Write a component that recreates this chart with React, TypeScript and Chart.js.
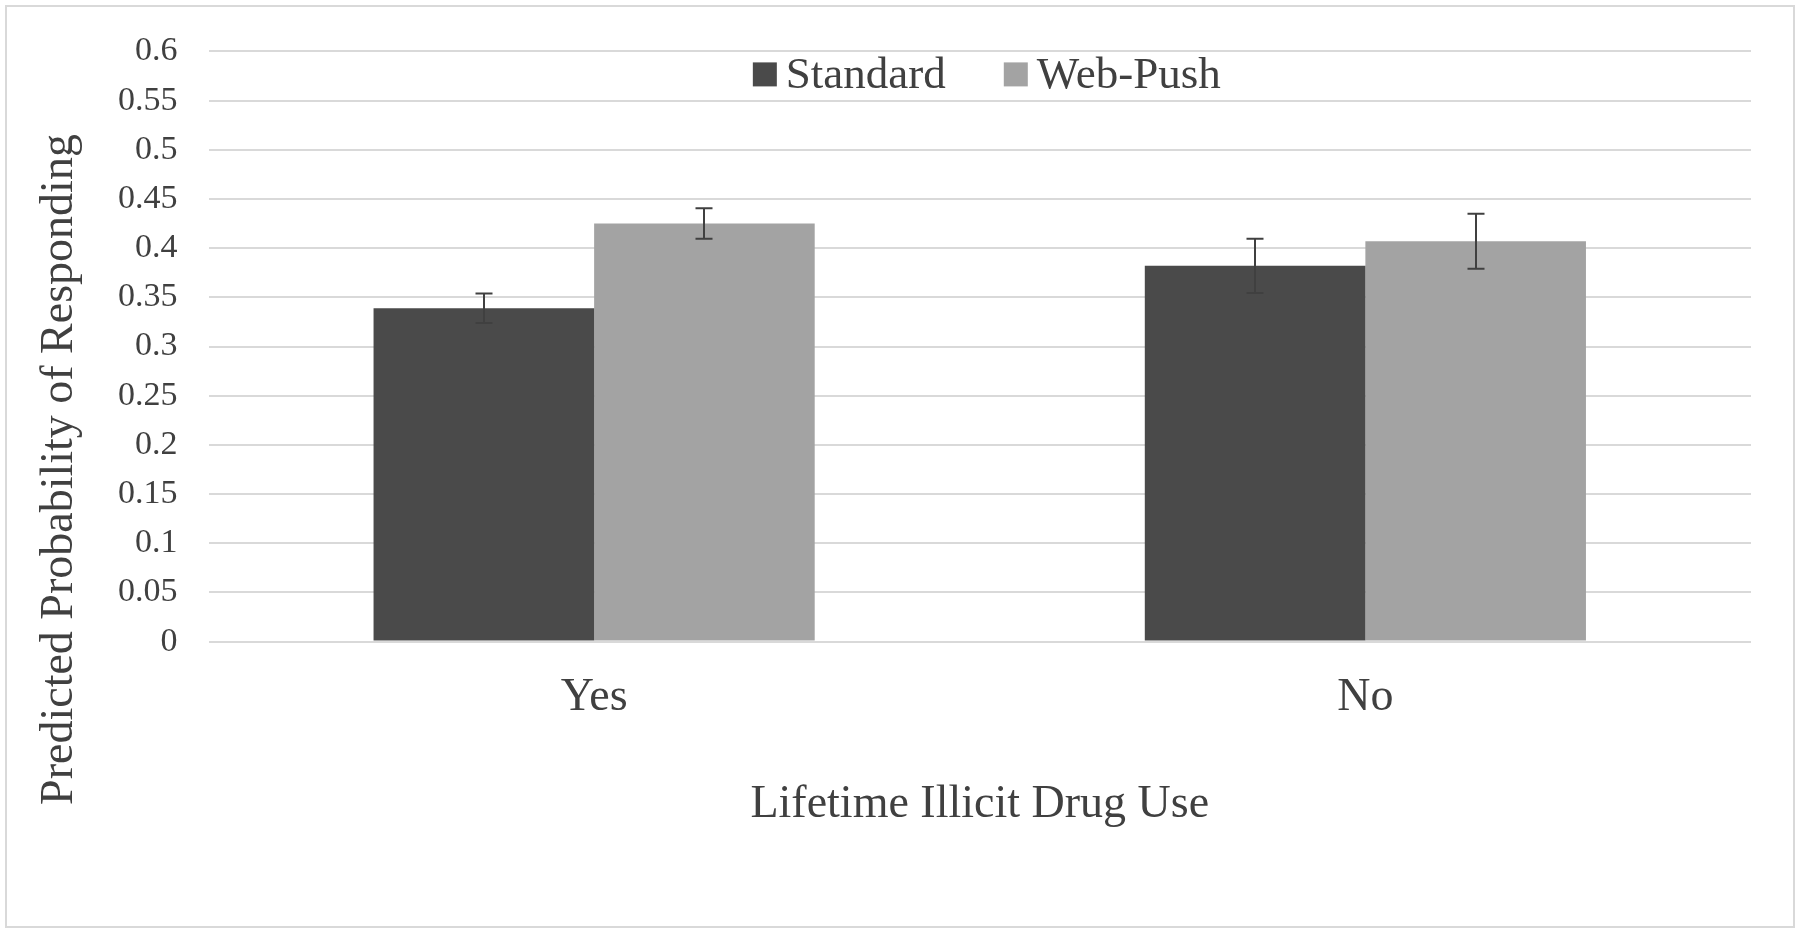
import React, { useEffect, useRef } from 'react';
import { Chart, registerables } from 'chart.js';

Chart.register(...registerables);

const categories = ['Yes', 'No'];
const seriesLabels = ['Standard', 'Web-Push'];
const standardValues = [0.339, 0.382];
const webPushValues = [0.425, 0.407];
const standardErrors = [0.015, 0.0275];
const webPushErrors = [0.0155, 0.028];
const yTickLabels = ['0', '0.05', '0.1', '0.15', '0.2', '0.25', '0.3', '0.35', '0.4', '0.45', '0.5', '0.55', '0.6'];
const xAxisTitle = 'Lifetime Illicit Drug Use';
const yAxisTitle = 'Predicted Probability of Responding';

const seriesColors = ['#4a4a4a', '#a3a3a3'];
const seriesErrors = [standardErrors, webPushErrors];
const FONT = '"Liberation Serif", "Times New Roman", serif';
const TEXT = '#404040';

const framePlugin = {
  id: 'frame',
  beforeDraw(chart: any) {
    const { ctx, width, height } = chart;
    ctx.save();
    ctx.fillStyle = '#ffffff';
    ctx.fillRect(0, 0, width, height);
    ctx.strokeStyle = '#d9d9d9';
    ctx.lineWidth = 2;
    ctx.strokeRect(6, 6, width - 12, height - 12);
    ctx.restore();
  },
};

const errorBarPlugin = {
  id: 'errorBars',
  afterDatasetsDraw(chart: any) {
    const { ctx } = chart;
    const y = chart.scales.y;
    ctx.save();
    ctx.strokeStyle = '#404040';
    ctx.lineWidth = 2;
    chart.data.datasets.forEach((ds: any, i: number) => {
      const meta = chart.getDatasetMeta(i);
      meta.data.forEach((bar: any, j: number) => {
        const v = ds.data[j];
        const e = seriesErrors[i][j];
        const yt = y.getPixelForValue(v + e);
        const yb = y.getPixelForValue(v - e);
        const x = Math.round(bar.x);
        ctx.beginPath();
        ctx.moveTo(x, yt);
        ctx.lineTo(x, yb);
        ctx.moveTo(x - 8.5, yt);
        ctx.lineTo(x + 8.5, yt);
        ctx.moveTo(x - 8.5, yb);
        ctx.lineTo(x + 8.5, yb);
        ctx.stroke();
      });
    });
    ctx.restore();
  },
};

const extrasPlugin = {
  id: 'extras',
  afterDraw(chart: any) {
    const { ctx, chartArea, height } = chart;
    ctx.save();
    // legend
    ctx.font = `45px ${FONT}`;
    ctx.textBaseline = 'middle';
    ctx.textAlign = 'left';
    const box = 24;
    const gap = 9;
    const itemGap = 58;
    const widths = chart.data.datasets.map((ds: any) => ctx.measureText(ds.label).width);
    const total = widths.reduce((a: number, w: number) => a + box + gap + w, 0) + itemGap * (widths.length - 1);
    let x = (chartArea.left + chartArea.right) / 2 - total / 2 + 7;
    const cy = chartArea.top + 23;
    chart.data.datasets.forEach((ds: any, i: number) => {
      ctx.fillStyle = ds.backgroundColor;
      ctx.fillRect(x, cy - box / 2, box, box);
      ctx.fillStyle = TEXT;
      ctx.fillText(ds.label, x + box + gap, cy + 2);
      x += box + gap + widths[i] + itemGap;
    });
    // y title
    ctx.font = `46px ${FONT}`;
    ctx.textAlign = 'center';
    ctx.fillStyle = TEXT;
    ctx.translate(60, height / 2 + 3);
    ctx.rotate(-Math.PI / 2);
    ctx.fillText(yAxisTitle, 0, 0);
    ctx.restore();
  },
};

export default function App() {
  const ref = useRef<HTMLCanvasElement>(null);
  useEffect(() => {
    if (!ref.current) return;
    const chart = new Chart(ref.current, {
      type: 'bar',
      data: {
        labels: categories,
        datasets: [
          { label: seriesLabels[0], data: standardValues, backgroundColor: seriesColors[0] },
          { label: seriesLabels[1], data: webPushValues, backgroundColor: seriesColors[1] },
        ],
      },
      options: {
        responsive: false,
        animation: false,
        events: [],
        datasets: { bar: { barPercentage: 1, categoryPercentage: 0.572 } },
        layout: { padding: { left: 87, right: 49, top: 45, bottom: 100 } },
        plugins: { legend: { display: false }, tooltip: { enabled: false } },
        scales: {
          x: {
            grid: { display: false, drawTicks: false },
            border: { display: false },
            ticks: { font: { family: FONT, size: 46 }, color: TEXT, padding: 29 },
            title: {
              display: true,
              text: xAxisTitle,
              font: { family: FONT, size: 46 },
              color: TEXT,
              padding: { top: 23, bottom: 0 },
            },
          },
          y: {
            min: 0,
            max: 0.6,
            grid: { color: '#d9d9d9', lineWidth: 2, drawTicks: false },
            border: { display: false },
            ticks: {
              stepSize: 0.05,
              font: { family: FONT, size: 34 },
              color: TEXT,
              padding: 31,
              callback: (_v: any, i: number) => yTickLabels[i],
            },
          },
        },
      },
      plugins: [framePlugin, errorBarPlugin, extrasPlugin],
    });
    return () => chart.destroy();
  }, []);
  return (
    <div style={{ position: 'fixed', left: 0, top: 0, width: 1800, height: 933, background: '#fff' }}>
      <canvas ref={ref} width={1800} height={933} style={{ display: 'block' }} />
    </div>
  );
}
